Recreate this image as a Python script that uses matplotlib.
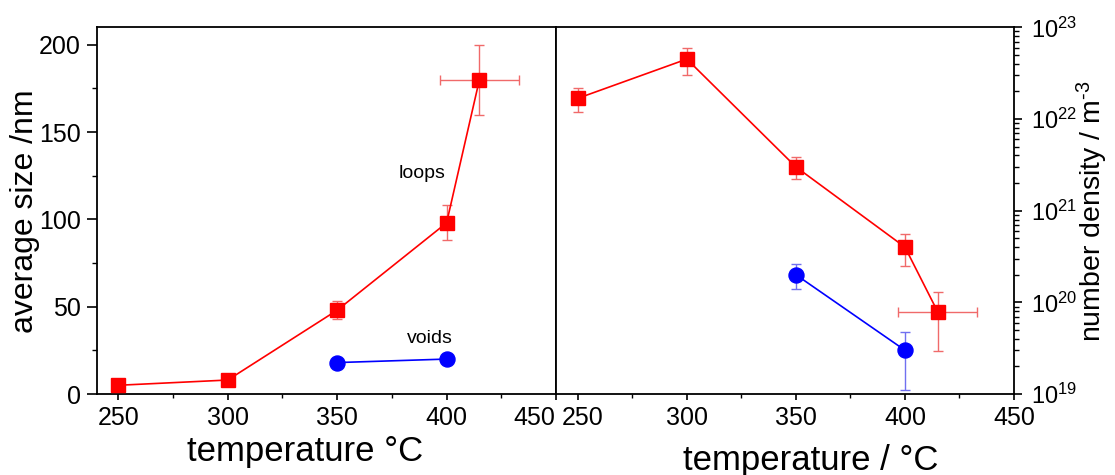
import matplotlib
matplotlib.use("Agg")
import matplotlib.pyplot as plt
from matplotlib.ticker import MultipleLocator, LogLocator, NullFormatter
from matplotlib.transforms import ScaledTranslation

plt.rcParams['font.family'] = ['Liberation Sans', 'DejaVu Sans']
plt.rcParams['mathtext.fontset'] = 'custom'
plt.rcParams['mathtext.rm'] = 'Liberation Sans'
plt.rcParams['mathtext.it'] = 'Liberation Sans'
plt.rcParams['mathtext.default'] = 'regular'

# ---- data: average size (left) ----
loop_T = [250, 300, 350, 400, 415]
loop_size = [5, 8, 48, 98, 180]
loop_size_err = [0, 0, 5, 10, 20]
loop_T_err = [0, 0, 0, 0, 18]

void_T = [350, 400]
void_size = [18, 20]

# ---- data: number density (right) ----
loop_dens = [1.68e22, 4.5e22, 3.0e21, 4.0e20, 7.9e19]
loop_dens_lo = [1.19e22, 3.0e22, 2.2e21, 2.5e20, 2.95e19]
loop_dens_hi = [2.2e22, 6.0e22, 3.8e21, 5.5e20, 1.3e20]

void_dens = [2.0e20, 3.0e19]
void_dens_lo = [1.4e20, 1.1e19]
void_dens_hi = [2.6e20, 4.8e19]

xticks = [250, 300, 350, 400, 450]

RED = '#ff0000'
BLUE = '#0000ff'
RED_ERR = '#f06a6a'
BLUE_ERR = '#7070f0'

fig = plt.figure(figsize=(11.15, 4.75), dpi=100)
W, H = 1115, 475
bottom = 1 - 394 / H
top = 1 - 27.3 / H
ax1 = fig.add_axes([96.5 / W, bottom, (556 - 96.5) / W, top - bottom])
ax2 = fig.add_axes([556 / W, bottom, (1014 - 556) / W, top - bottom])

for ax in (ax1, ax2):
    for s in ax.spines.values():
        s.set_linewidth(1.3)
    ax.set_xlim(240, 450)
    ax.set_xticks(xticks)
    ax.xaxis.set_minor_locator(MultipleLocator(25))
    ax.tick_params(axis='x', which='major', direction='out', length=4.5, width=1.2,
                   labelsize=18, pad=4, top=False)
    ax.tick_params(axis='x', which='minor', direction='out', length=2.7, width=1.0, top=False)

# ---- left panel ----
ax1.errorbar(loop_T, loop_size, yerr=loop_size_err, xerr=loop_T_err, fmt='none',
             ecolor=RED_ERR, elinewidth=1.0, capsize=3.3, capthick=1.0, zorder=2)
ax1.plot(loop_T, loop_size, '-', color=RED, lw=1.2, marker='s', ms=9.6,
         markerfacecolor=RED, markeredgecolor=RED, zorder=3)
ax1.plot(void_T, void_size, '-', color=BLUE, lw=1.2, marker='o', ms=10.8,
         markerfacecolor=BLUE, markeredgecolor=BLUE, zorder=3)
ax1.set_ylim(0, 210)
ax1.set_yticks([0, 50, 100, 150, 200])
ax1.yaxis.set_minor_locator(MultipleLocator(25))
ax1.tick_params(axis='y', which='major', direction='out', length=7.2, width=1.2,
                labelsize=18, pad=4, right=False)
ax1.tick_params(axis='y', which='minor', direction='out', length=3.6, width=1.0, right=False)
ax1.set_ylabel('average size /nm', fontsize=23, va='center')
ax1.yaxis.set_label_coords(-0.156, 0.499)
ax1.set_xlabel('temperature °C', fontsize=25, va='center')
ax1.xaxis.set_label_coords(0.454, -0.158)
ax1.text(389, 126.5, 'loops', fontsize=14, ha='center', va='center')
ax1.text(392.5, 31.5, 'voids', fontsize=14, ha='center', va='center')

# ---- right panel ----
ax2.set_yscale('log')
ax2.set_ylim(1e19, 1e23)
ld = [d - lo for d, lo in zip(loop_dens, loop_dens_lo)]
lu = [hi - d for d, hi in zip(loop_dens, loop_dens_hi)]
vd = [d - lo for d, lo in zip(void_dens, void_dens_lo)]
vu = [hi - d for d, hi in zip(void_dens, void_dens_hi)]
ax2.errorbar(loop_T, loop_dens, yerr=[ld, lu], xerr=loop_T_err, fmt='none',
             ecolor=RED_ERR, elinewidth=1.0, capsize=3.3, capthick=1.0, zorder=2)
ax2.errorbar(void_T, void_dens, yerr=[vd, vu], fmt='none',
             ecolor=BLUE_ERR, elinewidth=1.0, capsize=3.3, capthick=1.0, zorder=2)
ax2.plot(loop_T, loop_dens, '-', color=RED, lw=1.2, marker='s', ms=9.6,
         markerfacecolor=RED, markeredgecolor=RED, zorder=3)
ax2.plot(void_T, void_dens, '-', color=BLUE, lw=1.2, marker='o', ms=10.8,
         markerfacecolor=BLUE, markeredgecolor=BLUE, zorder=3)
ax2.yaxis.tick_right()
ax2.yaxis.set_label_position('right')
ax2.yaxis.set_major_locator(LogLocator(base=10, numticks=10))
ax2.yaxis.set_minor_locator(LogLocator(base=10, subs=range(2, 10), numticks=20))
ax2.yaxis.set_minor_formatter(NullFormatter())
ax2.tick_params(axis='y', which='major', direction='out', length=5.8, width=1.2,
                labelsize=17, pad=6.5, left=False, right=True)
ax2.tick_params(axis='y', which='minor', direction='out', length=3.6, width=1.0,
                left=False, right=True)
ax2.set_ylabel('number density / m$^{\\text{-}3}$', fontsize=20.5, va='center', rotation=90)
ax2.yaxis.set_label_coords(1.172, 0.499)
ax2.set_xlabel('temperature / °C', fontsize=25, va='center')
ax2.xaxis.set_label_coords(0.557, -0.18)

# nudge the two touching tick labels apart at the panel junction
fig.canvas.draw()
lab_left = ax1.get_xticklabels()[-1]
lab_left.set_transform(lab_left.get_transform() + ScaledTranslation(-0.22, 0, fig.dpi_scale_trans))
lab_right = ax2.get_xticklabels()[0]
lab_right.set_transform(lab_right.get_transform() + ScaledTranslation(0.05, 0, fig.dpi_scale_trans))

fig.savefig('out.png', dpi=100)
